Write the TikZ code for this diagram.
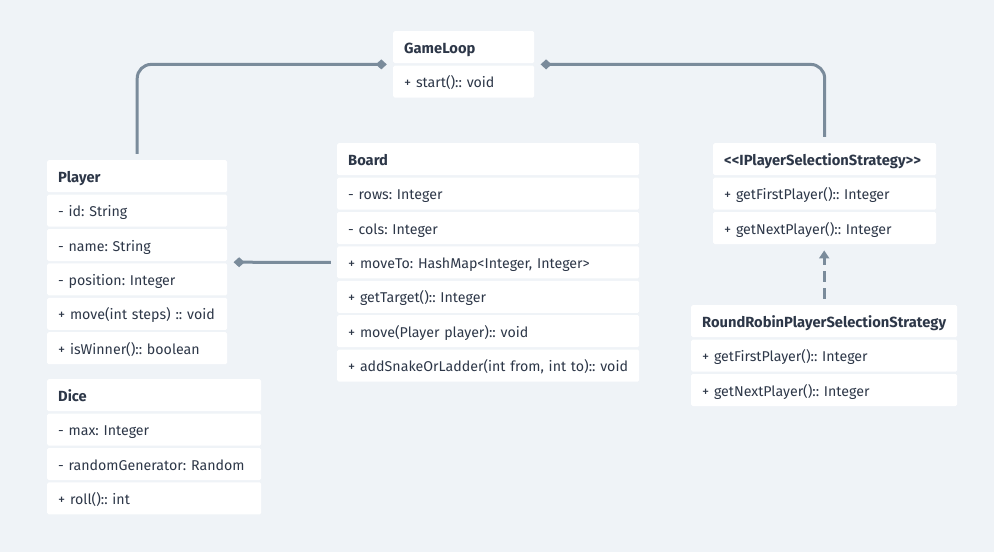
\documentclass[tikz,border=0pt]{standalone}
\usepackage{fontspec}
\setmainfont{Fira Sans}[Ligatures=TeXOff]
\usetikzlibrary{arrows.meta,positioning,fit}
\definecolor{BackClr}{HTML}{EFF3F7}
\definecolor{TextClr}{HTML}{2D3748}
\definecolor{LinkClr}{HTML}{7A8B9B}
\frenchspacing

\tikzset{
  cell/.style={fill=white, rounded corners=1.5pt, text=TextClr, align=left,
    inner xsep=11pt, inner ysep=0pt, minimum height=32pt,
    text height=12pt, text depth=0pt, text width=#1-22pt,
    execute at begin node=\hbox\bgroup, execute at end node=\egroup,
    font=\fontsize{14.2}{17}\selectfont},
  head/.style={cell=#1, font=\fontsize{14.7}{17}\selectfont\bfseries},
  link/.style={draw=LinkClr, line width=3pt, rounded corners=14pt,
    shorten <=6pt, shorten >=6pt},
  owns/.style={link, {Diamond[length=11pt,width=10pt,fill=LinkClr]}-},
  realizes/.style={link, dash pattern=on 11pt off 6pt,
    -{Triangle[length=8pt,width=10pt]}},
}

% name, top left corner, width, title, members
\newcommand{\umlclass}[5]{%
  \node[head=#3, anchor=north west] (#1-0) at (#2) {#4};
  \foreach \txt [count=\i, remember=\i as \j (initially 0)] in {#5}{
    \node[cell=#3, below=2pt of #1-\j] (#1-\i) {\txt};
    \xdef\lastrow{\i}
  }
  \node[fit=(#1-0)(#1-\lastrow), inner sep=0pt] (#1) {};
}

\begin{document}
\begin{tikzpicture}[x=1pt,y=-1pt]
\fill[BackClr] (0,0) rectangle (994,552);
\useasboundingbox (0,0) rectangle (994,552);

\umlclass{gameloop}{393,31}{141pt}{GameLoop}{+ start():: void}
\umlclass{player}{47,160}{180pt}{Player}{- id: String, - name: String,
  - position: Integer, + move(int steps) :: void, + isWinner():: boolean}
\umlclass{board}{337,143}{302pt}{Board}{- rows: Integer, - cols: Integer,
  {+ moveTo: HashMap<Integer, Integer>}, + getTarget():: Integer,
  + move(Player player):: void, {+ addSnakeOrLadder(int from, int to):: void}}
\umlclass{strategy}{713,143}{223pt}{<<IPlayerSelectionStrategy>>}{
  + getFirstPlayer():: Integer, + getNextPlayer():: Integer}
\umlclass{roundrobin}{691,305}{266pt}{RoundRobinPlayerSelectionStrategy}{
  + getFirstPlayer():: Integer, + getNextPlayer():: Integer}
\umlclass{dice}{47,379}{214pt}{Dice}{- max: Integer,
  - randomGenerator: Random, + roll():: int}

% relations
\draw[owns] (gameloop.west) -| (player.north);
\draw[owns] (gameloop.east) -| (strategy.north);
\draw[owns] (player.east) -- (board.west);
\draw[realizes] (roundrobin.north) -- (roundrobin.north |- strategy.south);

\end{tikzpicture}
\end{document}
